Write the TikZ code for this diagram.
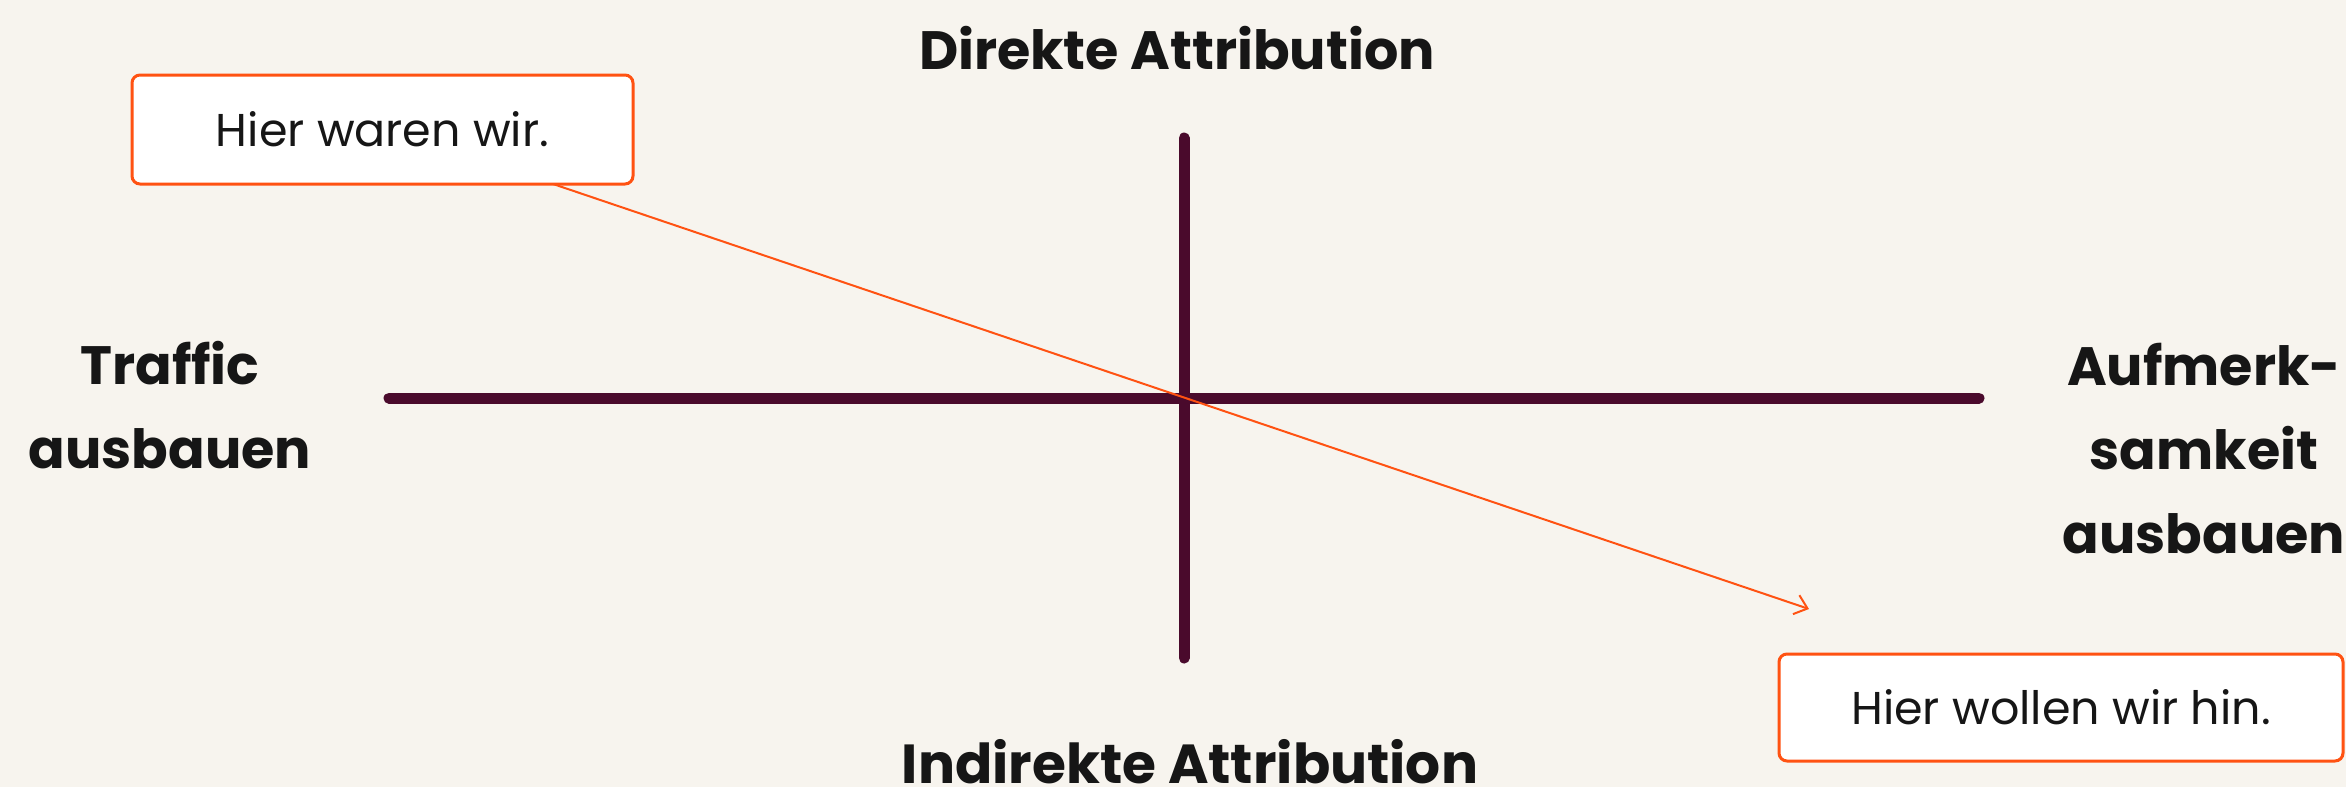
\documentclass[tikz,border=0pt]{standalone}
\usepackage{fontspec}
\setmainfont{Poppins}
\usetikzlibrary{arrows.meta}
\definecolor{bg}{HTML}{F7F4EE}
\definecolor{axiscol}{HTML}{4A0A2C}
\definecolor{orangecol}{HTML}{FF5212}
\definecolor{txt}{HTML}{161616}
\begin{document}
\begin{tikzpicture}[x=0.5pt,y=-0.5pt,
  axisline/.style={line width=5.5pt,draw=axiscol,line cap=round},
  callout/.style={draw=orangecol,fill=white,line width=1.5pt,rounded corners=4pt,inner sep=0pt,
    font=\fontsize{23}{28}\selectfont,text=txt},
  biglabel/.style={font=\fontsize{27}{42}\selectfont\bfseries,text=txt,align=center,inner sep=0pt},
  pointer/.style={draw=orangecol,line width=1pt,-{Straight Barb[length=6pt,width=10pt]}}]
\fill[bg] (0,0) rectangle (2346,787);
\useasboundingbox (0,0) rectangle (2346,787);
% axes
\coordinate (left) at (389,398);
\coordinate (right) at (1979,398);
\coordinate (top) at (1184,138);
\coordinate (bottom) at (1184,658);
\draw[axisline] (left) -- (right);
\draw[axisline] (top) -- (bottom);
% labels
\node[biglabel,anchor=base] (direkt) at (1177,69) {Direkte Attribution};
\node[biglabel,anchor=base,font=\fontsize{27.5}{42}\selectfont\bfseries] (indirekt) at (1190,783) {Indirekte Attribution};
\node[biglabel,anchor=base] (traffic) at (170,468) {Traffic\\ausbauen};
\node[biglabel,anchor=base] (aufm) at (2204,553) {Aufmerk-\\samkeit\\ausbauen};
% callouts
\node[callout,minimum width=250.5pt,minimum height=54.5pt] (here) at (382.5,129.5) {Hier waren wir.};
\node[callout,minimum width=282pt,minimum height=53.5pt] (there) at (2061,707.5) {Hier wollen wir hin.};
\coordinate (start) at (553,184);
\coordinate (tip) at (1809,609);
\draw[pointer] (start) -- (tip);
\end{tikzpicture}
\end{document}
